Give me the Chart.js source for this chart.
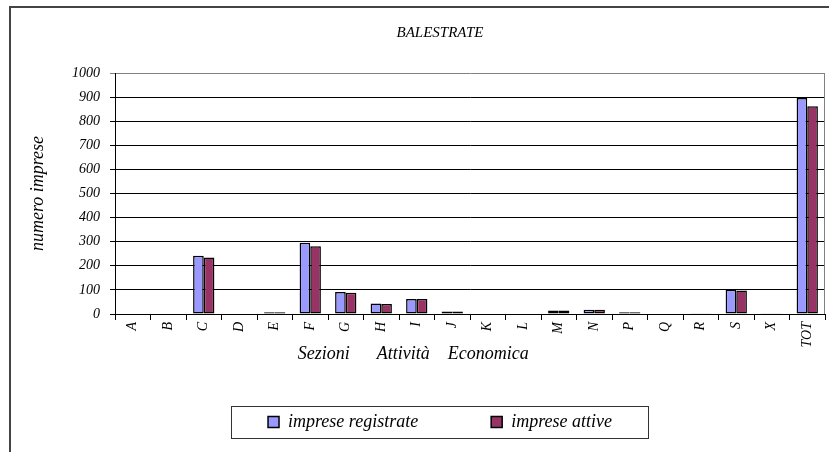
<!DOCTYPE html>
<html><head><meta charset="utf-8">
<script src="https://cdn.jsdelivr.net/npm/chart.js@4/dist/chart.umd.min.js"></script>
<style>html,body{margin:0;padding:0;background:#fff;}canvas{display:block;}</style>
</head><body>
<canvas id="c" width="829" height="452"></canvas>
<script>
const categories = ['A','B','C','D','E','F','G','H','I','J','K','L','M','N','P','Q','R','S','X','TOT'];
const impreseRegistrate = [0,0,242,0,7,296,91,44,62,10,0,0,15,18,7,0,3,101,1,896];
const impreseAttive     = [0,0,234,0,7,281,88,41,62,10,0,0,15,18,7,0,3,98,1,862];
const yTickValues = [0,100,200,300,400,500,600,700,800,900,1000];
const seriesNames = ['imprese registrate','imprese attive'];
const chartTitle = 'BALESTRATE';
const xTitle = 'Sezioni      Attività    Economica';
const yTitle = 'numero imprese';

const SERIF = "'Liberation Serif','Times New Roman',serif";

const decor = {
  id: 'decor',
  beforeDraw(chart) {
    const ctx = chart.ctx;
    ctx.save();
    ctx.fillStyle = '#fff';
    ctx.fillRect(0, 0, chart.width, chart.height);
    ctx.strokeStyle = '#444';
    ctx.lineWidth = 2;
    ctx.beginPath();
    ctx.moveTo(10, chart.height);
    ctx.lineTo(10, 7);
    ctx.lineTo(chart.width, 7);
    ctx.stroke();
    ctx.restore();
  },
  beforeDatasetsDraw(chart) {
    const a = chart.chartArea, ctx = chart.ctx;
    ctx.save();
    ctx.strokeStyle = '#808080';
    ctx.lineWidth = 1;
    ctx.beginPath();
    ctx.moveTo(Math.round(a.right) - 0.5, a.top);
    ctx.lineTo(Math.round(a.right) - 0.5, a.bottom);
    ctx.stroke();
    ctx.restore();
  },
  afterDraw(chart) {
    const a = chart.chartArea, ctx = chart.ctx;
    ctx.save();
    ctx.font = 'italic 18px ' + SERIF;
    ctx.fillStyle = '#000';
    ctx.textAlign = 'center';
    ctx.textBaseline = 'middle';
    ctx.fillText(xTitle, a.left + a.width * 0.42, a.bottom + 40);
    const hb = chart.legend.legendHitBoxes;
    if (hb && hb.length) {
      const first = hb[0], last = hb[hb.length - 1];
      const l = Math.round(first.left - 37) + 0.5;
      const r = Math.round(last.left + last.width + 36) + 0.5;
      const t = Math.round(first.top - 7) + 0.5;
      const b = Math.round(first.top + first.height + 7) + 0.5;
      ctx.strokeStyle = '#333';
      ctx.lineWidth = 1;
      ctx.strokeRect(l, t, r - l, b - t);
    }
    ctx.restore();
  }
};

new Chart(document.getElementById('c'), {
  type: 'bar',
  data: {
    labels: categories,
    datasets: [
      { label: seriesNames[0], data: impreseRegistrate, backgroundColor: '#9999FF', borderColor: '#000', borderWidth: 1.5, borderSkipped: false },
      { label: seriesNames[1], data: impreseAttive, backgroundColor: '#993366', borderColor: '#000', borderWidth: 1.5, borderSkipped: false }
    ]
  },
  options: {
    responsive: false,
    animation: false,
    devicePixelRatio: 1,
    categoryPercentage: 0.6,
    barPercentage: 1.0,
    layout: { padding: { left: 55, right: 4, top: 0, bottom: 11 } },
    plugins: {
      tooltip: { enabled: false },
      title: {
        display: true, text: chartTitle, color: '#000',
        font: { family: SERIF, size: 15, style: 'italic', weight: 'normal' },
        padding: { top: 24, bottom: 31 }
      },
      legend: {
        position: 'bottom',
        labels: {
          boxWidth: 11, boxHeight: 11, padding: 73, color: '#000',
          font: { family: SERIF, size: 18, style: 'italic' }
        }
      }
    },
    scales: {
      x: {
        afterFit(s) { s.height = 26; s._computeLabelArea = () => undefined; },
        grid: { display: true, drawOnChartArea: false, drawTicks: true, tickLength: 6, color: '#000', offset: true },
        border: { display: true, color: '#000', width: 1 },
        ticks: { autoSkip: false, maxRotation: 90, minRotation: 90, padding: 2, color: '#000',
                 font: { family: SERIF, size: 14, style: 'italic' } }
      },
      y: {
        min: 0, max: 1000,
        afterFit(s) { s.width = 60; },
        afterBuildTicks(s) { s.ticks = yTickValues.map(v => ({ value: v })); },
        grid: { color: c => (c.tick && c.tick.value === 1000) ? '#808080' : '#000', lineWidth: 1, drawTicks: true, tickLength: 5 },
        border: { display: true, color: '#000', width: 1 },
        ticks: { padding: 10, color: '#000', callback: v => String(v),
                 font: { family: SERIF, size: 14, style: 'italic' } },
        title: { display: true, text: yTitle, color: '#000',
                 font: { family: SERIF, size: 18, style: 'italic' },
                 padding: { top: -28, bottom: 0 } }
      }
    }
  },
  plugins: [decor]
});
</script>
</body></html>
